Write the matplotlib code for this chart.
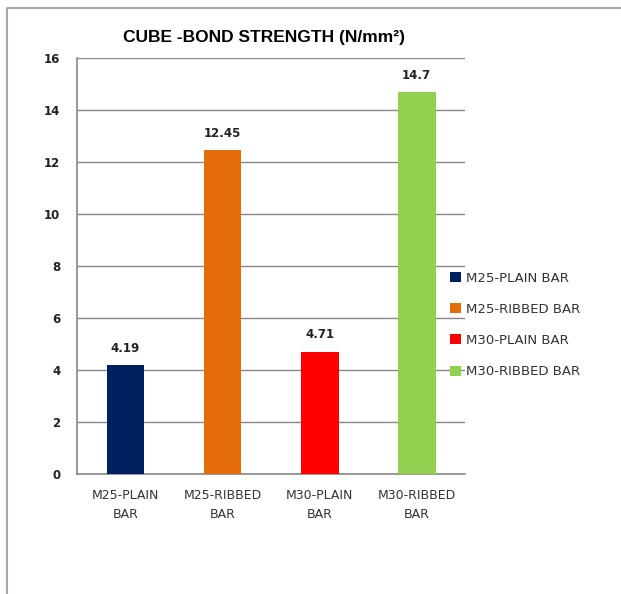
import matplotlib.pyplot as plt
from matplotlib.lines import Line2D

categories = ['M25-PLAIN BAR', 'M25-RIBBED BAR', 'M30-PLAIN BAR', 'M30-RIBBED BAR']
tick_labels = ['M25-PLAIN\nBAR', 'M25-RIBBED\nBAR', 'M30-PLAIN\nBAR', 'M30-RIBBED\nBAR']
strength = [4.19, 12.45, 4.71, 14.7]
value_labels = ['4.19', '12.45', '4.71', '14.7']
colors = ['#002060', '#E46C0A', '#FF0000', '#92D050']

fig = plt.figure(figsize=(6.21, 5.94), dpi=100)
ax = fig.add_axes([0.124, 0.202, 0.625, 0.70])

# outer chart border (cut off at right/bottom like the reference)
fig.add_artist(Line2D([0.012, 0.012, 1.0], [0.0, 0.987, 0.987],
                      transform=fig.transFigure, color='#a6a6a6', lw=1.5))

bars = []
for i, (lab, v, c) in enumerate(zip(categories, strength, colors)):
    b = ax.bar(i, v, width=0.39, color=c, label=lab, zorder=3)
    bars.append(b)
    ax.text(i, v + 0.4, value_labels[i], ha='center', va='bottom',
            fontsize=8.5, color='#222222', fontweight='bold')

ax.set_xlim(-0.5, 3.5)
ax.set_ylim(0, 16)
ax.set_yticks(range(0, 17, 2))
ax.set_xticks(range(4))
ax.set_xticklabels(tick_labels, fontsize=9, color='#333333', linespacing=1.55)
ax.tick_params(axis='y', length=0, pad=12, labelsize=8.5, labelcolor='#222222')
ax.tick_params(axis='x', length=0, pad=11)
for t in ax.get_yticklabels():
    t.set_fontweight('bold')

ax.grid(axis='y', color='#888888', lw=1.0, zorder=0)
for s in ('top', 'right'):
    ax.spines[s].set_visible(False)
for s in ('left', 'bottom'):
    ax.spines[s].set_color('#888888')
    ax.spines[s].set_linewidth(1.2)

fig.text(0.425, 0.937, 'CUBE -BOND STRENGTH (N/mm²)', ha='center', va='center',
         fontsize=12.5, fontweight='bold', family='Liberation Sans')

fig.legend(handles=[b[0] for b in bars], labels=categories,
           loc='center left', bbox_to_anchor=(0.706, 0.453), frameon=False,
           fontsize=9.5, handlelength=0.8, handleheight=0.8, handletextpad=0.4,
           labelspacing=1.38, labelcolor='#333333')

fig.savefig('out.png', dpi=100, facecolor='white')
